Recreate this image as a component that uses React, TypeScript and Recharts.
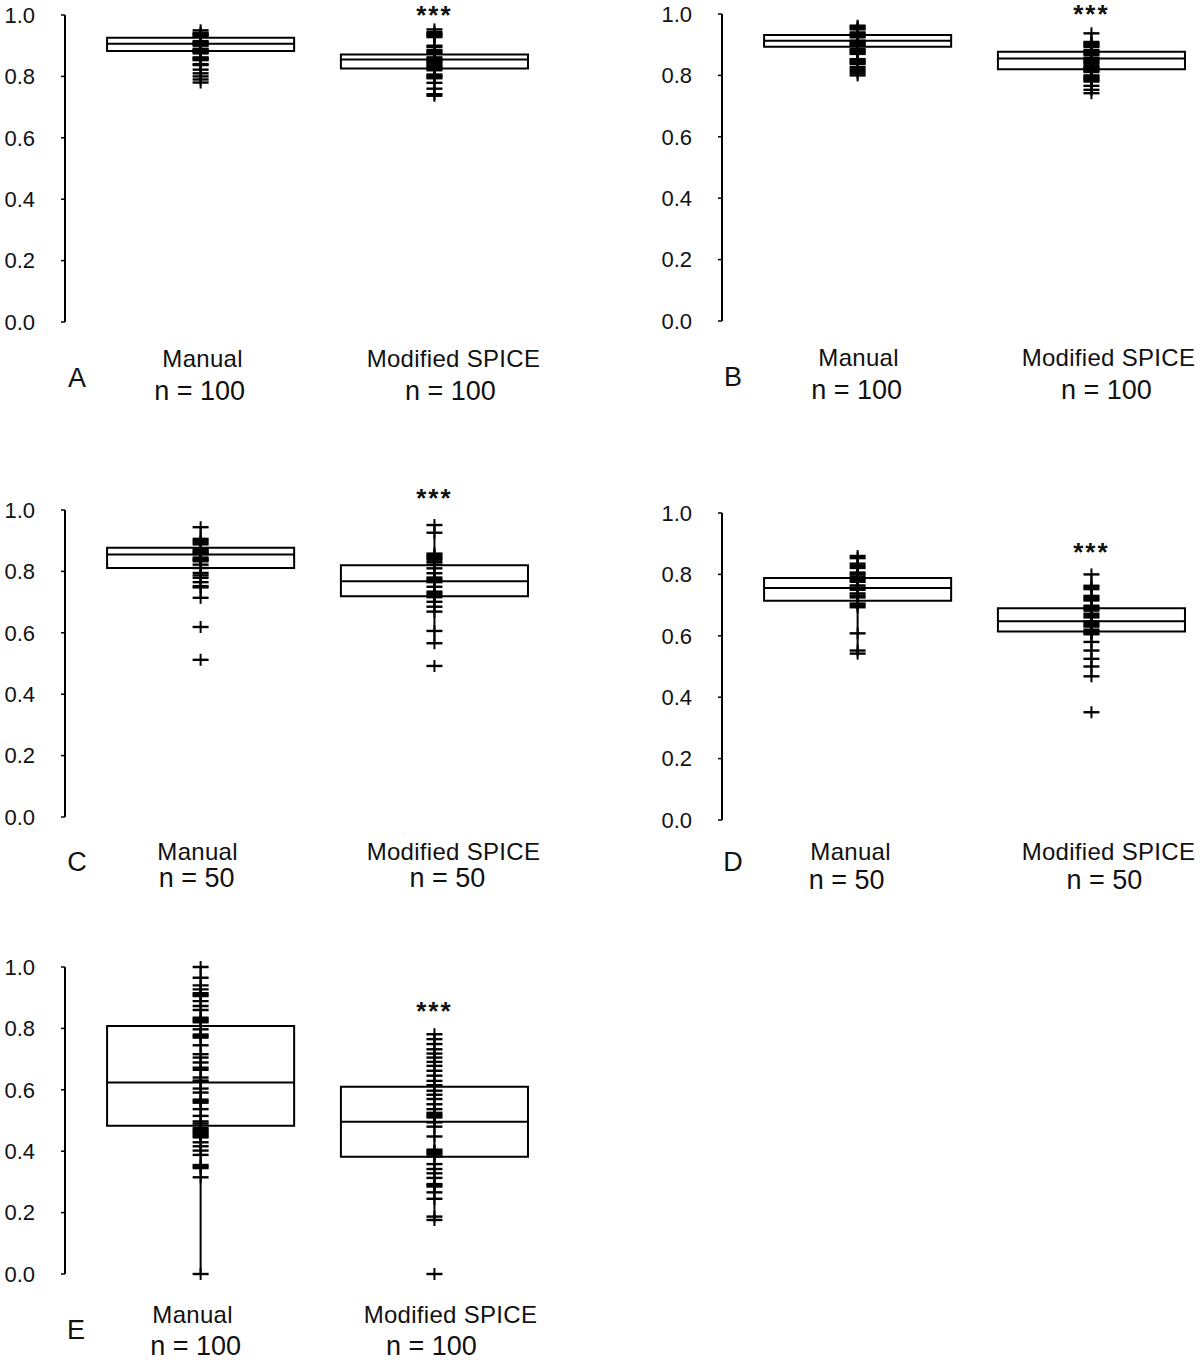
import React from 'react';
import { ComposedChart, XAxis, YAxis, Scatter, ReferenceArea, ReferenceLine, ReferenceDot } from 'recharts';

const panelLetters = ['A', 'B', 'C', 'D', 'E'];
const groupNames = ['Manual', 'Modified SPICE'];
const sampleSizes = [100, 100, 50, 50, 100];
const yTicks = [0, 0.2, 0.4, 0.6, 0.8, 1.0];

// box statistics per panel (A..E)
const manualQ1 = [0.883, 0.893, 0.811, 0.714, 0.483];
const manualMedian = [0.906, 0.913, 0.855, 0.756, 0.624];
const manualQ3 = [0.926, 0.932, 0.877, 0.788, 0.808];
const manualLow = [0.78, 0.8, 0.714, 0.542, 0.0];
const manualHigh = [0.95, 0.962, 0.944, 0.86, 1.0];

const spiceQ1 = [0.826, 0.82, 0.719, 0.614, 0.382];
const spiceMedian = [0.855, 0.855, 0.768, 0.647, 0.496];
const spiceQ3 = [0.871, 0.877, 0.82, 0.69, 0.61];
const spiceLow = [0.737, 0.742, 0.566, 0.468, 0.176];
const spiceHigh = [0.953, 0.937, 0.951, 0.8, 0.781];

// height of the "***" marks over the Modified SPICE box
const starY = [1.018, 1.018, 1.06, 0.893, 0.876];

// individual values
const manualA = [0.95, 0.942, 0.939, 0.936, 0.933, 0.93, 0.915, 0.912, 0.909, 0.906, 0.903, 0.9, 0.89, 0.887, 0.884, 0.881, 0.878, 0.875, 0.862, 0.859, 0.856, 0.853, 0.84, 0.837, 0.822, 0.81, 0.8, 0.79, 0.78];
const spiceA = [0.953, 0.944, 0.94, 0.936, 0.932, 0.928, 0.9, 0.896, 0.886, 0.882, 0.878, 0.874, 0.862, 0.858, 0.854, 0.85, 0.846, 0.842, 0.836, 0.832, 0.828, 0.824, 0.82, 0.806, 0.802, 0.798, 0.794, 0.779, 0.76, 0.742, 0.737];
const manualB = [0.962, 0.958, 0.954, 0.95, 0.94, 0.936, 0.932, 0.928, 0.924, 0.913, 0.909, 0.905, 0.901, 0.897, 0.886, 0.882, 0.878, 0.874, 0.87, 0.853, 0.849, 0.845, 0.841, 0.837, 0.827, 0.82, 0.814, 0.807, 0.8];
const spiceB = [0.937, 0.909, 0.905, 0.901, 0.897, 0.893, 0.883, 0.879, 0.875, 0.871, 0.867, 0.858, 0.854, 0.85, 0.846, 0.842, 0.838, 0.831, 0.827, 0.823, 0.819, 0.815, 0.811, 0.8, 0.796, 0.792, 0.788, 0.784, 0.78, 0.766, 0.753, 0.742];
const manualC = [0.944, 0.906, 0.9, 0.894, 0.888, 0.872, 0.868, 0.864, 0.86, 0.856, 0.845, 0.841, 0.837, 0.833, 0.822, 0.811, 0.795, 0.787, 0.779, 0.765, 0.752, 0.748, 0.714, 0.619, 0.512];
const spiceC = [0.951, 0.926, 0.858, 0.853, 0.848, 0.843, 0.838, 0.83, 0.822, 0.81, 0.794, 0.78, 0.775, 0.77, 0.765, 0.75, 0.734, 0.728, 0.722, 0.716, 0.701, 0.685, 0.669, 0.606, 0.566, 0.492];
const manualD = [0.86, 0.853, 0.835, 0.828, 0.821, 0.806, 0.8, 0.793, 0.787, 0.781, 0.776, 0.764, 0.757, 0.75, 0.738, 0.731, 0.725, 0.705, 0.699, 0.693, 0.608, 0.552, 0.542];
const spiceD = [0.8, 0.763, 0.758, 0.752, 0.73, 0.725, 0.72, 0.715, 0.698, 0.693, 0.688, 0.682, 0.672, 0.666, 0.66, 0.647, 0.641, 0.635, 0.63, 0.62, 0.615, 0.61, 0.605, 0.58, 0.552, 0.525, 0.5, 0.468, 0.351];
const manualE = [1.0, 0.965, 0.94, 0.927, 0.915, 0.91, 0.905, 0.889, 0.873, 0.86, 0.835, 0.83, 0.825, 0.82, 0.797, 0.78, 0.775, 0.77, 0.745, 0.716, 0.705, 0.689, 0.672, 0.665, 0.64, 0.63, 0.626, 0.604, 0.591, 0.568, 0.563, 0.558, 0.537, 0.515, 0.497, 0.49, 0.475, 0.47, 0.465, 0.46, 0.455, 0.45, 0.445, 0.429, 0.416, 0.402, 0.388, 0.355, 0.35, 0.345, 0.315, 0.0];
const spiceE = [0.781, 0.765, 0.749, 0.732, 0.718, 0.705, 0.691, 0.678, 0.662, 0.646, 0.629, 0.615, 0.597, 0.584, 0.57, 0.553, 0.537, 0.525, 0.52, 0.515, 0.51, 0.494, 0.48, 0.448, 0.405, 0.4, 0.395, 0.39, 0.383, 0.358, 0.342, 0.328, 0.313, 0.293, 0.289, 0.285, 0.266, 0.245, 0.187, 0.176, 0.0];

const manualPoints = [manualA, manualB, manualC, manualD, manualE];
const spicePoints = [spiceA, spiceB, spiceC, spiceD, spiceE];

const FONT = '"Liberation Sans", Arial, sans-serif';
const CHART_W = 542;
const PLOT_H = 307;
const TOP_PAD = 30;
const AXIS_H = 90;
const HALF_BOX = 0.4;

// where each panel sits on the page
const layouts = [
  { left: 0, plotTop: 15, nameDy: 36, nDy: 69, letterX: 77, letterDy: 56, shifts: [[2, -1], [19, 16]] },
  { left: 657, plotTop: 14, nameDy: 36, nDy: 69, letterX: 76, letterDy: 56, shifts: [[1, -1], [17, 15]] },
  { left: 0, plotTop: 510, nameDy: 34, nDy: 61, letterX: 77, letterDy: 45, shifts: [[-3, -4], [19, 13]] },
  { left: 657, plotTop: 513, nameDy: 31, nDy: 60, letterX: 76, letterDy: 42, shifts: [[-7, -11], [17, 13]] },
  { left: 0, plotTop: 967, nameDy: 40, nDy: 72, letterX: 76, letterDy: 56, shifts: [[-8, -5], [16, -3]] },
];

const PlusMark = (props: any) => {
  const { cx, cy } = props;
  if (cx == null || cy == null) return null;
  return (
    <g>
      <line x1={cx - 8} x2={cx + 8} y1={cy} y2={cy} stroke="#000" strokeWidth={2.4} />
      <line x1={cx} x2={cx} y1={cy - 6} y2={cy + 6} stroke="#000" strokeWidth={2} />
    </g>
  );
};

function Panel({ i }: { i: number }) {
  const lay = layouts[i];
  const groups = [
    { x: 1, q1: manualQ1[i], med: manualMedian[i], q3: manualQ3[i], lo: manualLow[i], hi: manualHigh[i], pts: manualPoints[i] },
    { x: 2, q1: spiceQ1[i], med: spiceMedian[i], q3: spiceQ3[i], lo: spiceLow[i], hi: spiceHigh[i], pts: spicePoints[i] },
  ];

  const renderTick = (props: any) => {
    const { x, y, payload } = props;
    const gi = Math.round(payload.value) - 1;
    const [nameShift, nShift] = lay.shifts[gi];
    return (
      <g>
        <text x={x + nameShift} y={y + lay.nameDy} textAnchor="middle" dominantBaseline="central"
          fontSize={24} letterSpacing={0.3} fontFamily={FONT} fill="#111">{groupNames[gi]}</text>
        <text x={x + nShift} y={y + lay.nDy} textAnchor="middle" dominantBaseline="central"
          fontSize={27} fontFamily={FONT} fill="#111">{`n = ${sampleSizes[i]}`}</text>
      </g>
    );
  };

  return (
    <div style={{ position: 'absolute', left: lay.left, top: lay.plotTop - TOP_PAD }}>
      <ComposedChart width={CHART_W} height={TOP_PAD + PLOT_H + AXIS_H} margin={{ top: TOP_PAD, right: 0, bottom: 0, left: 0 }}>
        <XAxis type="number" dataKey="x" domain={[0.42, 2.46]} ticks={[1, 2]} allowDataOverflow
          axisLine={false} tickLine={false} tickSize={0} tickMargin={0} height={AXIS_H} tick={renderTick} />
        <YAxis type="number" dataKey="y" domain={[0, 1]} ticks={yTicks} width={65}
          tickFormatter={(v: number) => v.toFixed(1)}
          axisLine={{ stroke: '#000', strokeWidth: 2 }} tickLine={{ stroke: '#000', strokeWidth: 1.5 }}
          tickSize={4} tickMargin={26} tick={{ fill: '#111', fontSize: 22, fontFamily: FONT }} />
        {groups.map((g) => (
          <ReferenceArea key={`box${g.x}`} x1={g.x - HALF_BOX} x2={g.x + HALF_BOX} y1={g.q1} y2={g.q3}
            fill="none" fillOpacity={0} stroke="#000" strokeWidth={2} strokeOpacity={1} ifOverflow="visible" />
        ))}
        {groups.map((g) => (
          <ReferenceLine key={`med${g.x}`} segment={[{ x: g.x - HALF_BOX, y: g.med }, { x: g.x + HALF_BOX, y: g.med }]}
            stroke="#000" strokeWidth={2} ifOverflow="visible" />
        ))}
        {groups.map((g) => (
          <ReferenceLine key={`wh${g.x}`} segment={[{ x: g.x, y: g.lo }, { x: g.x, y: g.hi }]}
            stroke="#000" strokeWidth={2} ifOverflow="visible" />
        ))}
        {groups.map((g) => (
          <Scatter key={`pts${g.x}`} data={g.pts.map((v) => ({ x: g.x, y: v }))} shape={PlusMark}
            isAnimationActive={false} />
        ))}
        <ReferenceDot x={2} y={starY[i]} r={0} ifOverflow="visible"
          shape={(p: any) => (
            <text x={p.cx} y={p.cy} dy={15} textAnchor="middle" fontSize={26} fontWeight="bold"
              fontFamily={FONT} letterSpacing={2} fill="#111">***</text>
          )} />
      </ComposedChart>
      <div style={{
        position: 'absolute', left: lay.letterX, top: TOP_PAD + PLOT_H + lay.letterDy,
        transform: 'translate(-50%, -50%)', fontFamily: FONT, fontSize: 27, color: '#111', lineHeight: 1,
      }}>{panelLetters[i]}</div>
    </div>
  );
}

export default function App() {
  return (
    <div style={{ position: 'absolute', left: 0, top: 0, width: 1200, height: 1360, background: '#fff', overflow: 'hidden' }}>
      {panelLetters.map((_, i) => <Panel key={i} i={i} />)}
    </div>
  );
}
